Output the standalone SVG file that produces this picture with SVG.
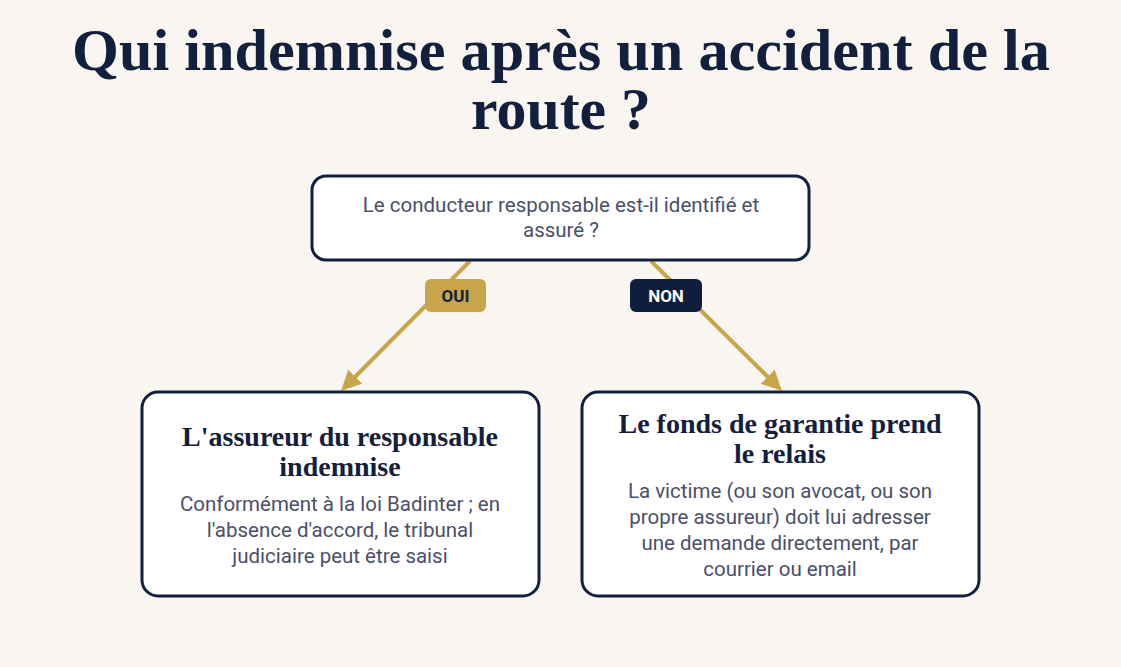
<svg xmlns="http://www.w3.org/2000/svg" width="1121" height="667" viewBox="0 0 1121 667">
<style>
.title{font-family:"Liberation Serif","DejaVu Serif",serif;font-weight:bold;fill:#13203d;text-anchor:middle}
.box{fill:#fff;stroke:#13203d;stroke-width:3}
.body{font-family:Roboto,"Liberation Sans",sans-serif;font-size:20.5px;fill:#4a5068;text-anchor:middle}
.h{font-family:"Liberation Serif","DejaVu Serif",serif;font-weight:bold;font-size:28px;fill:#13203d;text-anchor:middle}
.badge{font-family:Roboto,"Liberation Sans",sans-serif;font-weight:bold;font-size:17px;text-anchor:middle}
.conn{stroke:#c9a54a;stroke-width:4;fill:none;marker-end:url(#arr)}
</style>
<defs><marker id="arr" viewBox="0 0 10 10" refX="8" refY="5" markerWidth="5" markerHeight="5" orient="auto"><path d="M0,0L10,5L0,10z" fill="#c9a54a"/></marker></defs>
<rect width="1121" height="667" fill="#f9f6f1"/>
<text class="title" font-size="60" x="561" y="70" textLength="978" lengthAdjust="spacingAndGlyphs">Qui indemnise après un accident de la</text>
<text class="title" font-size="60" x="561" y="129" textLength="180" lengthAdjust="spacingAndGlyphs">route ?</text>
<g id="connectors">
<line class="conn" x1="470" y1="261" x2="344" y2="388"/>
<line class="conn" x1="651" y1="261" x2="779" y2="388"/>
</g>
<g id="q"><rect class="box" x="312" y="176" width="497" height="84" rx="14"/>
<text class="body" x="561" y="212">Le conducteur responsable est-il identifié et</text>
<text class="body" x="561" y="237">assuré ?</text></g>
<g id="oui"><rect x="425" y="279" width="61" height="33" rx="6" fill="#c9a54a"/><text class="badge" x="455.5" y="302" fill="#13203d">OUI</text></g>
<g id="non"><rect x="630" y="279" width="72" height="33" rx="6" fill="#0f1e3d"/><text class="badge" x="666" y="302" fill="#fff">NON</text></g>
<g id="left"><rect class="box" x="142" y="392" width="397" height="204" rx="16"/>
<text class="h" x="340" y="446">L'assureur du responsable</text>
<text class="h" x="340" y="476">indemnise</text>
<text class="body" x="340" y="511">Conformément à la loi Badinter ; en</text>
<text class="body" x="340" y="537">l'absence d'accord, le tribunal</text>
<text class="body" x="340" y="563">judiciaire peut être saisi</text></g>
<g id="right"><rect class="box" x="582" y="392" width="397" height="204" rx="16"/>
<text class="h" x="780" y="433">Le fonds de garantie prend</text>
<text class="h" x="780" y="463">le relais</text>
<text class="body" x="780" y="498">La victime (ou son avocat, ou son</text>
<text class="body" x="780" y="524">propre assureur) doit lui adresser</text>
<text class="body" x="780" y="550">une demande directement, par</text>
<text class="body" x="780" y="576">courrier ou email</text></g>
</svg>
